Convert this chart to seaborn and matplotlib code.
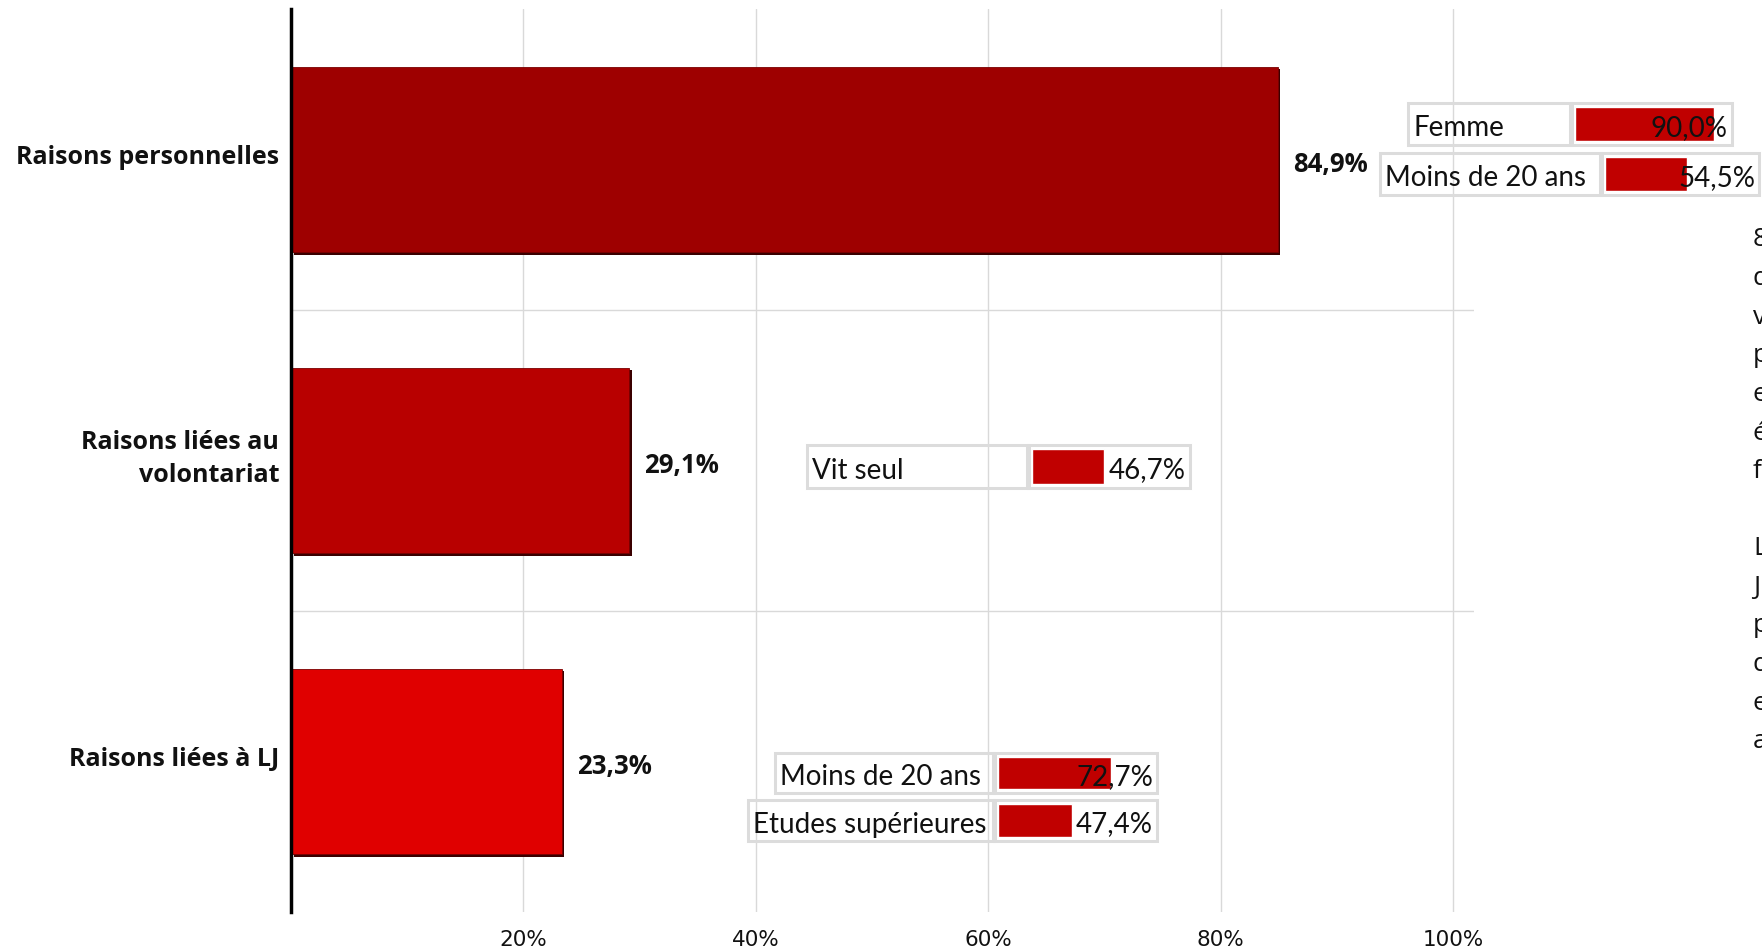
import matplotlib
matplotlib.use("Agg")
import matplotlib.pyplot as plt
import matplotlib.patheffects as pe
from matplotlib.patches import Rectangle
import seaborn as sns
import pandas as pd

# ---------------- data ----------------
categories = ["Raisons personnelles", "Raisons liées au\nvolontariat", "Raisons liées à LJ"]
values = [84.9, 29.1, 23.3]
value_labels = ["84,9%", "29,1%", "23,3%"]
bar_colors = ["#9E0000", "#B80000", "#E00000"]
x_ticks = [20, 40, 60, 80, 100]
x_tick_labels = ["20%", "40%", "60%", "80%", "100%"]

inset_labels = ["Femme", "Moins de 20 ans", "Vit seul", "Moins de 20 ans", "Etudes supérieures"]
inset_values = [90.0, 54.5, 46.7, 72.7, 47.4]
inset_value_labels = ["90,0%", "54,5%", "46,7%", "72,7%", "47,4%"]

side_text_lines = ["8", "d", "v", "p", "e", "é", "f", "", "L", "J", "p", "d", "e", "a"]

# ---------------- layout (pixels) ----------------
W, H = 1762, 951
# left, divider, right, top, bottom
inset_boxes = [
    (1408, 1570, 1732, 103, 145),
    (1380, 1600, 1759, 153, 195),
    (807, 1027, 1190, 445, 488),
    (775, 993, 1157, 753, 793),
    (748, 993, 1157, 800, 841),
]


def fx(x):
    return x / W


def fy(y):
    return 1 - y / H


sns.set_theme(style="white")
plt.rcParams["font.family"] = ["DejaVu Sans"]

fig = plt.figure(figsize=(W / 100, H / 100), dpi=100)
fig.patch.set_facecolor("white")

ax_left, ax_right, ax_top, ax_bottom = 291, 1474, 9, 912
ax = fig.add_axes([fx(ax_left), fy(ax_bottom), (ax_right - ax_left) / W, (ax_bottom - ax_top) / H])

df = pd.DataFrame({"cat": categories, "val": values})
sns.barplot(data=df, y="cat", x="val", hue="cat", palette=bar_colors, orient="h",
            width=0.615, dodge=False, legend=False, ax=ax, saturation=1)

for p in ax.patches:
    p.set_edgecolor("#7a0000")
    p.set_linewidth(0.6)
    p.set_path_effects([pe.SimplePatchShadow(offset=(1.8, -1.8), shadow_rgbFace="#3a0000", alpha=1.0),
                        pe.Normal()])

ax.set_xlim(0, (ax_right - ax_left) / ((1453 - 291) / 100.0))
ax.set_ylim(2.5, -0.5)
ax.set_xticks(x_ticks)
ax.set_xticklabels(x_tick_labels, fontsize=15.5, family="DejaVu Sans", color="#111111")
ax.set_yticks(range(len(categories)))
ax.set_yticklabels([""] * len(categories))
for i, cat in enumerate(categories):
    ax.annotate(cat, xy=(0, i), xycoords=("axes fraction", "data"), xytext=(-8.5, 1.2),
                textcoords="offset points", ha="right", va="center", multialignment="right",
                fontsize=18, fontweight="bold", family="Open Sans", color="#111111",
                linespacing=1.4)
ax.tick_params(axis="y", length=0, pad=9)
ax.tick_params(axis="x", length=0, pad=13)
ax.set_xlabel("")
ax.set_ylabel("")
ax.set_axisbelow(True)
ax.grid(axis="x", color="#D9D9D9", linewidth=1)
ax.grid(axis="y", visible=False)
for yy in [0.5, 1.5]:
    ax.axhline(yy, color="#D9D9D9", linewidth=1, zorder=0)
for s in ["top", "right", "bottom"]:
    ax.spines[s].set_visible(False)
ax.spines["left"].set_color("black")
ax.spines["left"].set_linewidth(2.5)
ax.spines["left"].set_zorder(5)

for i, (v, lab) in enumerate(zip(values, value_labels)):
    ax.annotate(lab, xy=(v, i), xytext=(11, -3.5), textcoords="offset points",
                ha="left", va="center", fontsize=18.5, fontweight="bold", family="Open Sans",
                color="#111111")

# ---------------- inset mini tables ----------------
border_col = "#DCDCDC"
for (lab, val, vlab, (l, d, r, t, b)) in zip(inset_labels, inset_values, inset_value_labels, inset_boxes):
    # label cell and value cell frames
    fig.add_artist(Rectangle((fx(l), fy(b)), (d - l) / W, (b - t) / H, transform=fig.transFigure,
                             facecolor="none", edgecolor=border_col, linewidth=2.2))
    fig.add_artist(Rectangle((fx(d + 2), fy(b)), (r - d - 2) / W, (b - t) / H, transform=fig.transFigure,
                             facecolor="none", edgecolor=border_col, linewidth=2.2))
    fig.text(fx(l + 5), fy((t + b) / 2 + 4), lab, ha="left", va="center",
             fontsize=20, family="Lato", color="#111111")
    # value cell bar through its own axes
    cx0, cx1 = d + 5, r - 3
    cy0, cy1 = t + 4, b - 4
    iax = fig.add_axes([fx(cx0), fy(cy1), (cx1 - cx0) / W, (cy1 - cy0) / H])
    iax.barh([0], [val], height=1.0, color="#C00000", left=0)
    iax.set_xlim(0, 100)
    iax.set_ylim(-0.5, 0.5)
    iax.axis("off")
    iax.patch.set_alpha(0)
    fig.text(fx(r - 4), fy((t + b) / 2 + 4), vlab, ha="right", va="center",
             fontsize=20, family="Lato", color="#111111", zorder=10)

# ---------------- clipped side text ----------------
y0 = 240
for k, line in enumerate(side_text_lines):
    if line:
        fig.text(fx(1753), fy(y0 + k * 38.6), line, ha="left", va="center",
                 fontsize=19, family="Open Sans", color="#111111")

fig.savefig("out.png", dpi=100)
